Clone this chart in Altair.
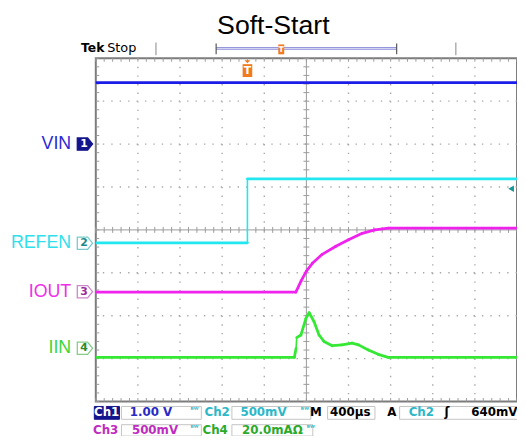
import altair as alt
import pandas as pd

# ---------------- data (time in µs from left screen edge, 400 µs/div; level in divisions from bottom) ----
vin_t = [0, 4000]
vin_v = [7.43, 7.43]
refen_t = [0, 1440, 1440, 4000]
refen_v = [3.70, 3.70, 5.19, 5.19]
iout_t = [0, 1900, 1950, 2000, 2060, 2150, 2280, 2400, 2530, 2650, 2780, 4000]
iout_v = [2.55, 2.55, 2.81, 3.04, 3.23, 3.43, 3.62, 3.77, 3.92, 4.00, 4.04, 4.04]
iin_t = [0, 1886, 1902, 1908, 1948, 1995, 2026, 2073, 2120, 2167, 2245, 2339, 2433, 2495, 2588, 2682, 2776, 4000]
iin_v = [1.03, 1.03, 1.24, 1.49, 1.55, 1.93, 2.07, 1.86, 1.55, 1.40, 1.30, 1.32, 1.36, 1.32, 1.20, 1.10, 1.03, 1.03]

channels = ["VIN", "REFEN", "IOUT", "IIN"]
trace_colors = ["#1c1ce8", "#22e6f0", "#f022ee", "#34e834"]
label_colors = ["#2a2ad6", "#2ee0ec", "#f02ee8", "#3ad63a"]
ground_levels = [6.0, 3.69, 2.56, 1.24]
marker_nums = ["1", "2", "3", "4"]
marker_strokes = ["#14148c", "#7acccc", "#cc88cc", "#88cc88"]
marker_text = ["#ffffff", "#1a8a8a", "#9a2a9a", "#2a8a2a"]
trigger_t = 1440
trigger_level = 4.96
title_text = "Soft-Start"

X_DOM = [0, 4000]
Y_DOM = [0, 8]
W, H = 427, 348
LABEL_FONT = "Liberation Sans"
SCOPE_FONT = "DejaVu Sans"

segs = []
for name, ts, vs in [("VIN", vin_t, vin_v), ("REFEN", refen_t, refen_v),
                     ("IOUT", iout_t, iout_v), ("IIN", iin_t, iin_v)]:
    for i in range(len(ts) - 1):
        steep = abs(ts[i + 1] - ts[i]) < 12
        segs.append({"ch": name, "t": ts[i], "v": vs[i], "t2": ts[i + 1], "v2": vs[i + 1],
                     "w": 1.6 if steep else 2.8})
traces = pd.DataFrame(segs)

xs = alt.Scale(domain=X_DOM, nice=False, zero=False)
ys = alt.Scale(domain=Y_DOM, nice=False, zero=False)
def X(f="t"):
    return alt.X(f"{f}:Q", scale=xs, axis=None)
def Y(f="v"):
    return alt.Y(f"{f}:Q", scale=ys, axis=None)

one = pd.DataFrame({"k": [0]})
GRID = "#a8a8a8"
layers = []

# graticule
vg = pd.DataFrame({"t": [400 * k for k in range(1, 10) if k != 5]})
hg = pd.DataFrame({"v": [k for k in range(1, 8) if k != 4]})
layers.append(alt.Chart(vg).mark_rule(color=GRID, strokeWidth=1.4, strokeDash=[1.4, 7.3]).encode(x=X()))
layers.append(alt.Chart(hg).mark_rule(color=GRID, strokeWidth=1.4, strokeDash=[1.4, 7.14]).encode(y=Y()))
layers.append(alt.Chart(pd.DataFrame({"t": [2000]})).mark_rule(color="#9a9a9a", strokeWidth=1).encode(x=X()))
layers.append(alt.Chart(pd.DataFrame({"v": [4]})).mark_rule(color="#9a9a9a", strokeWidth=1).encode(y=Y()))

xt = [80 * k for k in range(0, 51)]
yt = [0.2 * k for k in range(0, 41)]
tick_h = pd.DataFrame({"t": xt, "v": [4] * len(xt)})
tick_v = pd.DataFrame({"t": [2000] * len(yt), "v": yt})
layers.append(alt.Chart(tick_h).mark_point(shape="M0,-1L0,1", size=36, color="#9a9a9a", strokeWidth=1, opacity=1).encode(x=X(), y=Y()))
layers.append(alt.Chart(tick_v).mark_point(shape="M-1,0L1,0", size=36, color="#9a9a9a", strokeWidth=1, opacity=1).encode(x=X(), y=Y()))
layers.append(alt.Chart(pd.DataFrame({"t": xt, "v": [8] * len(xt)})).mark_point(shape="M0,0L0,1", size=49, color="#9a9a9a", strokeWidth=1, opacity=1).encode(x=X(), y=Y()))
layers.append(alt.Chart(pd.DataFrame({"t": xt, "v": [0] * len(xt)})).mark_point(shape="M0,-1L0,0", size=49, color="#9a9a9a", strokeWidth=1, opacity=1).encode(x=X(), y=Y()))
layers.append(alt.Chart(pd.DataFrame({"t": [0] * len(yt), "v": yt})).mark_point(shape="M0,0L1,0", size=49, color="#9a9a9a", strokeWidth=1, opacity=1).encode(x=X(), y=Y()))

# traces (drawn as joined segments so that vertical edges stay thin)
layers.append(alt.Chart(traces).mark_rule(strokeCap="round", clip=True).encode(
    x=X(), y=Y(), x2="t2:Q", y2="v2:Q",
    color=alt.Color("ch:N", scale=alt.Scale(domain=channels, range=trace_colors), legend=None),
    strokeWidth=alt.StrokeWidth("w:Q", scale=None, legend=None)))

# channel labels & ground markers
for name, lvl, col, num, mst, mtx in zip(channels, ground_levels, label_colors, marker_nums, marker_strokes, marker_text):
    d = pd.DataFrame({"v": [lvl]})
    layers.append(alt.Chart(d).mark_text(text=name, align="right", baseline="middle", fontSize=18,
                                         font=LABEL_FONT, color=col).encode(x=alt.value(-25), y=Y()))
    filled = num == "1"
    layers.append(alt.Chart(d).mark_point(shape="M-1,-0.8L0.35,-0.8L1,0L0.35,0.8L-1,0.8Z", size=240,
                                          filled=True, fill=mst if filled else "#ffffff",
                                          stroke=mst, strokeWidth=1.3, opacity=1).encode(x=alt.value(-11), y=Y()))
    layers.append(alt.Chart(d).mark_text(text=num, align="center", baseline="middle", fontSize=11,
                                         fontWeight="bold", font=SCOPE_FONT, color=mtx,
                                         dx=-1).encode(x=alt.value(-11), y=Y()))

# trigger level arrow (right side)
layers.append(alt.Chart(pd.DataFrame({"v": [trigger_level]})).mark_point(
    shape="triangle-left", size=45, filled=True, color="#1a9696", opacity=1).encode(x=alt.value(421), y=Y()))

# trigger position marker
ORANGE = "#f07a1c"
td = pd.DataFrame({"t": [trigger_t]})
layers.append(alt.Chart(td).mark_point(shape="M-1,-1L1,-1L0,0Z", size=36, filled=True, color=ORANGE, opacity=1).encode(x=X(), y=alt.value(5)))
layers.append(alt.Chart(td).mark_point(shape="M-0.75,-1L0.75,-1L0.75,1L-0.75,1Z", size=169, filled=True, color=ORANGE, opacity=1).encode(x=X(), y=alt.value(12.5)))
layers.append(alt.Chart(td).mark_text(text="T", fontSize=11, fontWeight="bold", font=SCOPE_FONT, color="white", baseline="middle").encode(x=X(), y=alt.value(13)))

# ---------------- top bar ----------------
def text(s, x, y, size=12, color="black", weight="bold", align="left", font=SCOPE_FONT):
    return alt.Chart(one).mark_text(text=s, fontSize=size, color=color, fontWeight=weight, align=align,
                                    baseline="middle", font=font).encode(x=alt.value(x), y=alt.value(y))

def rule(x1, y1, x2, y2, color, w=1.0):
    return alt.Chart(one).mark_rule(color=color, strokeWidth=w).encode(
        x=alt.value(x1), y=alt.value(y1), x2=alt.value(x2), y2=alt.value(y2))

def box(x1, y1, x2, y2, fill="#ffffff", stroke="#c4c4c4"):
    return alt.Chart(one).mark_rect(fill=fill, stroke=stroke, strokeWidth=1).encode(
        x=alt.value(x1), y=alt.value(y1), x2=alt.value(x2), y2=alt.value(y2))

layers.append(text(title_text, 180, -33, size=27, weight="normal", align="center", font=LABEL_FONT))
layers.append(text("Tek", -15, -10, size=12.5, weight="bold"))
layers.append(text("Stop", 11.5, -10, size=13, weight="normal"))
layers.append(rule(61, -16, 61, -3, "#9a9a9a", 1.2))
layers.append(rule(365, -16, 365, -3, "#9a9a9a", 1.2))
layers.append(rule(122, -10, 305, -10, "#8c8cd8", 3))
layers.append(rule(122, -10, 305, -10, "#dcdcf6", 1))
layers.append(rule(122, -15, 122, -4, "#555555", 1.2))
layers.append(rule(305, -15, 305, -4, "#555555", 1.2))
layers.append(alt.Chart(one).mark_point(shape="M-0.6,-1L0.6,-1L0.6,-0.6L0.6,1L-0.6,1L-0.6,-0.6Z", size=100, filled=True, color=ORANGE, opacity=1).encode(x=alt.value(188), y=alt.value(-9)))
layers.append(text("T", 188, -8, size=8, color="white", align="center"))

# ---------------- status bar ----------------
R1, R2 = 359, 377
BLUE, CYAN, MAG, GRN = "#2a2ac4", "#2cb8c8", "#c02cc0", "#2caa2c"
layers += [
    box(-1.5, 353, 24, 366, fill="#14148c", stroke="#14148c"),
    text("Ch1", 11, R1, color="white", align="center"),
    box(26, 353, 107, 366), text("1.00 V", 56, R1, color=BLUE, align="center"),
    text("ᴮᵂ", 100, R1 - 2, size=7, color=CYAN, align="center"),
    text("Ch2", 123, R1, color=CYAN, align="center"),
    box(138, 353, 218, 366), text("500mV", 170, R1, color=CYAN, align="center"),
    text("ᴮᵂ", 212, R1 - 2, size=7, color=CYAN, align="center"),
    text("M", 223, R1, color="black", align="center"),
    box(235, 353, 283, 366), text("400µs", 258, R1, color="black", align="center"),
    text("A", 300, R1, color="black", align="center"),
    box(308, 353, 440, 366), text("Ch2", 330, R1, color=CYAN, align="center"),
    text("ʃ", 356, R1, color="black", align="center"),
    text("640mV", 404, R1, color="black", align="center"),
    text("Ch3", 10, R2, color=MAG, align="center"),
    box(26, 371.5, 107, 383), text("500mV", 60, R2, color=MAG, align="center"),
    text("ᴮᵂ", 100, R2 - 2, size=7, color=CYAN, align="center"),
    text("Ch4", 121, R2, color=GRN, align="center"),
    box(138, 371.5, 220, 383), text("20.0mAΩ", 179, R2, color=GRN, align="center"),
    text("ᴮᵂ", 218, R2 - 2, size=7, color=CYAN, align="center"),
]

chart = alt.layer(*layers).properties(
    width=W, height=H,
    padding={"left": 89, "top": 48, "right": 0, "bottom": 32},
    autosize=alt.AutoSizeParams(type="none"),
).configure_view(stroke="#7c7c7c", strokeWidth=2)

chart.save("out.html", embed_options={"renderer": "svg", "actions": False})
